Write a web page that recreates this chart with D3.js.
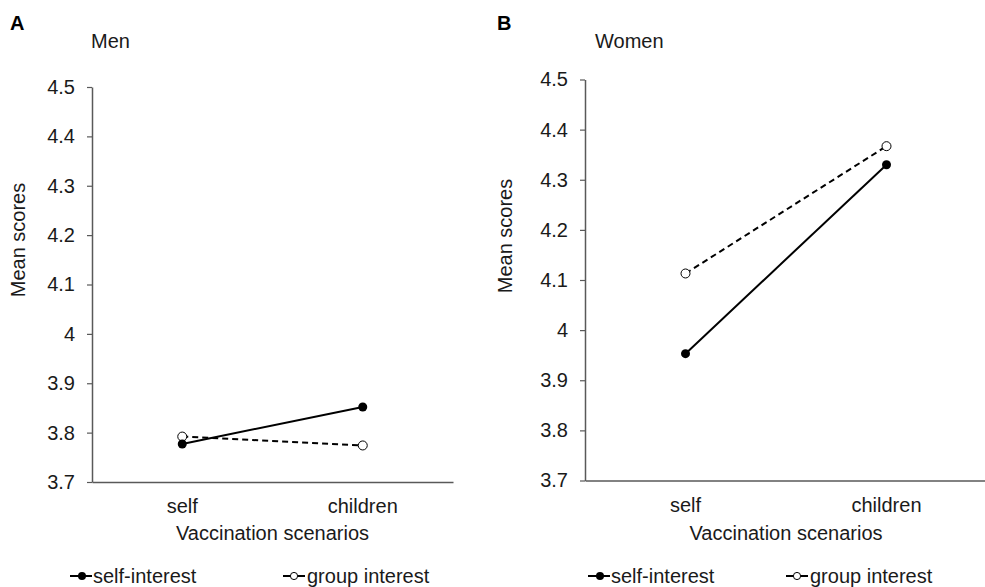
<!DOCTYPE html>
<html>
<head>
<meta charset="utf-8">
<script src="https://cdn.jsdelivr.net/npm/d3@7"></script>
<style>
  html, body { margin: 0; padding: 0; background: #fff; }
  svg text { font-family: "Liberation Sans", Arial, sans-serif; }
</style>
</head>
<body>
<svg id="chart" width="985" height="587"></svg>
<script>
// ---- data ----
const categories = ["self", "children"];
const yTicks = [3.7, 3.8, 3.9, 4, 4.1, 4.2, 4.3, 4.4, 4.5];
const seriesNames = ["self-interest", "group interest"];
const menSelfInterest = [3.777, 3.852];
const menGroupInterest = [3.792, 3.774];
const womenSelfInterest = [3.953, 4.330];
const womenGroupInterest = [4.113, 4.367];
const panelLetters = ["A", "B"];
const panelTitles = ["Men", "Women"];
const xTitle = "Vaccination scenarios";
const yTitle = "Mean scores";

const svg = d3.select("#chart");
const FS = 20;
const axisColor = "#595959";
const textColor = "#1a1a1a";

const panels = [
  { letter: panelLetters[0], title: panelTitles[0], self: menSelfInterest, group: menGroupInterest,
    x0: 92, x1: 453, yTop: 87, yBot: 482, letterX: 10, titleX: 91, yTitleX: 25, yTitleY: 240,
    legSelfX: 70, legGroupX: 283 },
  { letter: panelLetters[1], title: panelTitles[1], self: womenSelfInterest, group: womenGroupInterest,
    x0: 585, x1: 987, yTop: 79.5, yBot: 480.5, letterX: 497, titleX: 595, yTitleX: 512, yTitleY: 236,
    legSelfX: 588, legGroupX: 786 }
];

panels.forEach(p => {
  const g = svg.append("g");
  const x = d3.scaleBand().domain(categories).range([p.x0, p.x1]);
  const y = d3.scaleLinear().domain([3.7, 4.5]).range([p.yBot, p.yTop]);

  // y axis
  const yAxis = d3.axisLeft(y).tickValues(yTicks).tickSize(5).tickSizeOuter(0).tickPadding(12)
    .tickFormat(d => d3.format("")(+d.toFixed(1)));
  const yg = g.append("g").attr("transform", `translate(${p.x0},0)`).call(yAxis);
  yg.select(".domain").attr("stroke", axisColor).attr("stroke-width", 1.5);
  yg.selectAll(".tick line").attr("stroke", axisColor).attr("stroke-width", 1.2);
  yg.selectAll(".tick text").attr("fill", textColor).style("font-size", FS + "px")
    .style("font-family", "'Liberation Sans', Arial, sans-serif");

  // x axis
  const xAxis = d3.axisBottom(x).tickSize(0).tickSizeOuter(0).tickPadding(17);
  const xg = g.append("g").attr("transform", `translate(0,${p.yBot})`).call(xAxis);
  xg.select(".domain").attr("stroke", axisColor).attr("stroke-width", 1.5);
  xg.selectAll(".tick text").attr("fill", textColor).style("font-size", FS + "px")
    .style("font-family", "'Liberation Sans', Arial, sans-serif");

  const cx = d => x(d) + x.bandwidth() / 2;

  // lines
  const line = d3.line().x((d, i) => cx(categories[i])).y(d => y(d));
  g.append("path").datum(p.group).attr("d", line).attr("fill", "none")
    .attr("stroke", "#000").attr("stroke-width", 2).attr("stroke-dasharray", "6,4");
  g.append("path").datum(p.self).attr("d", line).attr("fill", "none")
    .attr("stroke", "#000").attr("stroke-width", 2);

  // markers
  g.selectAll(".gm").data(p.group).enter().append("circle")
    .attr("cx", (d, i) => cx(categories[i])).attr("cy", d => y(d)).attr("r", 4.5)
    .attr("fill", "#fff").attr("stroke", "#000").attr("stroke-width", 1);
  g.selectAll(".sm").data(p.self).enter().append("circle")
    .attr("cx", (d, i) => cx(categories[i])).attr("cy", d => y(d)).attr("r", 4.5)
    .attr("fill", "#000");

  // titles
  g.append("text").attr("x", p.letterX).attr("y", 30).text(p.letter)
    .style("font-size", FS + "px").style("font-weight", "bold").attr("fill", "#000");
  g.append("text").attr("x", p.titleX).attr("y", 48).text(p.title)
    .style("font-size", FS + "px").attr("fill", textColor);
  g.append("text").attr("transform", `translate(${p.yTitleX},${p.yTitleY}) rotate(-90)`)
    .attr("text-anchor", "middle").text(yTitle).style("font-size", FS + "px").attr("fill", textColor);
  g.append("text").attr("x", (p.x0 + p.x1) / 2).attr("y", 540).attr("text-anchor", "middle")
    .text(xTitle).style("font-size", FS + "px").attr("fill", textColor);

  // legend
  const ly = 576;
  const ls = g.append("g").attr("transform", `translate(${p.legSelfX},${ly})`);
  ls.append("line").attr("x1", 0).attr("x2", 22).attr("y1", 0).attr("y2", 0)
    .attr("stroke", "#000").attr("stroke-width", 2);
  ls.append("circle").attr("cx", 12).attr("cy", 0).attr("r", 4).attr("fill", "#000");
  ls.append("text").attr("x", 23).attr("y", 7).text(seriesNames[0])
    .style("font-size", FS + "px").attr("fill", textColor);

  const lg = g.append("g").attr("transform", `translate(${p.legGroupX},${ly})`);
  lg.append("line").attr("x1", 0).attr("x2", 22).attr("y1", 0).attr("y2", 0)
    .attr("stroke", "#000").attr("stroke-width", 2).attr("stroke-dasharray", "7,8,7");
  lg.append("circle").attr("cx", 11).attr("cy", 0).attr("r", 3.6)
    .attr("fill", "#fff").attr("stroke", "#000").attr("stroke-width", 1);
  lg.append("text").attr("x", 24).attr("y", 7).text(seriesNames[1])
    .style("font-size", FS + "px").attr("fill", textColor);
});
</script>
</body>
</html>
